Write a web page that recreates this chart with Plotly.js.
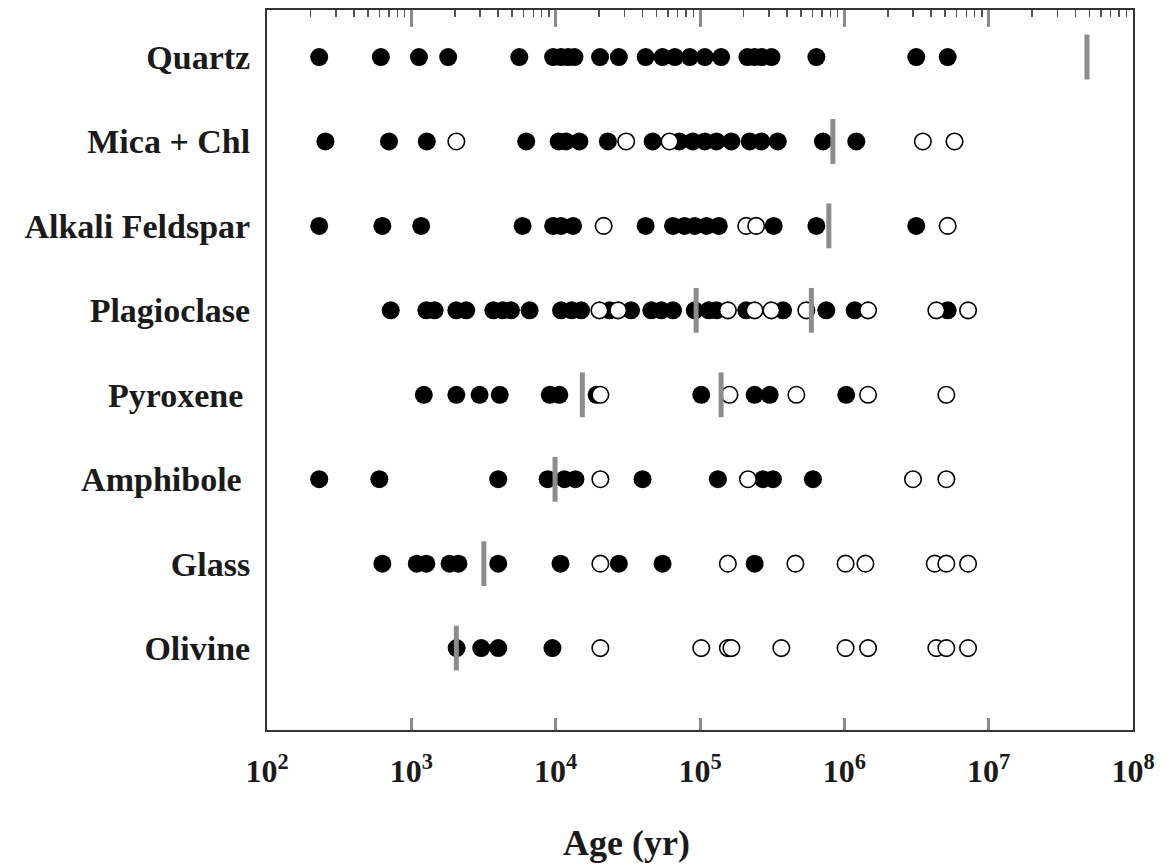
<!DOCTYPE html>
<html>
<head>
<meta charset="utf-8">
<script src="https://cdn.plot.ly/plotly-3.0.1.min.js"></script>
<style>html,body{margin:0;padding:0;background:#fff;}#chart{width:1170px;height:866px;}</style>
</head>
<body>
<div id="chart"></div>
<script>
// Categories (top to bottom)
var minerals = ['Quartz', 'Mica + Chl', 'Alkali Feldspar', 'Plagioclase', 'Pyroxene', 'Amphibole', 'Glass', 'Olivine'];
var mineralLabels = ['Quartz', 'Mica + Chl', 'Alkali Feldspar', 'Plagioclase', 'Pyroxene\u2009', 'Amphibole\u00a0', 'Glass', 'Olivine'];

// Ages (yr) - filled circles
var quartzFilled = [230, 615, 1130, 1800, 5600, 9600, 10900, 12200, 13500, 20300, 27400, 42000, 55000, 67000, 85000, 108000, 140000, 213000, 239000, 267000, 313000, 640000, 3150000, 5200000];
var micaFilled = [254, 700, 1280, 6250, 10500, 11800, 14600, 23000, 47000, 72000, 89000, 108000, 130000, 165000, 221000, 266000, 346000, 711000, 1210000];
var alkaliFilled = [230, 630, 1170, 5900, 9600, 10900, 13200, 42000, 65000, 78000, 92000, 111000, 135000, 324000, 640000, 3150000];
var plagFilled = [720, 1270, 1450, 2050, 2400, 3700, 4300, 4900, 6600, 10900, 12900, 15000, 23600, 33300, 46000, 54000, 65000, 92000, 115000, 130000, 209000, 376000, 750000, 1180000, 5200000];
var pyroxFilled = [1220, 2050, 2970, 4100, 9100, 10600, 19200, 102000, 239000, 304000, 1030000];
var amphFilled = [230, 600, 4000, 8800, 11500, 13700, 40000, 133000, 273000, 320000, 606000];
var glassFilled = [630, 1090, 1270, 1840, 2120, 4000, 10800, 27400, 55000, 239000];
var olivFilled = [2060, 3050, 4000, 9500];

// Ages (yr) - open circles
var quartzOpen = [];
var micaOpen = [2050, 30800, 61500, 3500000, 5800000];
var alkaliOpen = [21500, 209000, 245000, 5200000];
var plagOpen = [20100, 27100, 156000, 239000, 312000, 545000, 1460000, 4340000, 7200000];
var pyroxOpen = [20400, 160000, 465000, 1460000, 5090000];
var amphOpen = [20400, 215000, 2990000, 5090000];
var glassOpen = [20400, 156000, 458000, 1020000, 1400000, 4230000, 5090000, 7200000];
var olivOpen = [20400, 102000, 156000, 165000, 366000, 1020000, 1460000, 4340000, 5090000, 7200000];

// Ages (yr) - grey bars
var quartzBar = [48000000];
var micaBar = [833000];
var alkaliBar = [781000];
var plagBar = [94000, 591000];
var pyroxBar = [15300, 140000];
var amphBar = [9900];
var glassBar = [3180];
var olivBar = [2050];

// Axis ticks
var xTickVals = [1e2, 1e3, 1e4, 1e5, 1e6, 1e7, 1e8];
var xTickText = ['10<sup>2</sup>', '10<sup>3</sup>', '10<sup>4</sup>', '10<sup>5</sup>', '10<sup>6</sup>', '10<sup>7</sup>', '10<sup>8</sup>'];

function collect(lists) {
  var xs = [], ys = [];
  lists.forEach(function (arr, i) {
    arr.forEach(function (v) { xs.push(v); ys.push(minerals[i]); });
  });
  return {x: xs, y: ys};
}

var filled = collect([quartzFilled, micaFilled, alkaliFilled, plagFilled, pyroxFilled, amphFilled, glassFilled, olivFilled]);
var open = collect([quartzOpen, micaOpen, alkaliOpen, plagOpen, pyroxOpen, amphOpen, glassOpen, olivOpen]);
var bars = collect([quartzBar, micaBar, alkaliBar, plagBar, pyroxBar, amphBar, glassBar, olivBar]);

var font = {family: 'Liberation Serif, serif', size: 34, weight: 'bold', color: '#1a1a1a'};

var traces = [
  {type: 'scatter', mode: 'markers', x: filled.x, y: filled.y, xaxis: 'x', yaxis: 'y',
   marker: {symbol: 'circle', size: 18, color: '#000', line: {width: 0}}, hoverinfo: 'x+y'},
  {type: 'scatter', mode: 'markers', x: open.x, y: open.y, xaxis: 'x', yaxis: 'y',
   marker: {symbol: 'circle', size: 16.5, color: '#fff', line: {width: 1.6, color: '#000'}}, hoverinfo: 'x+y'},
  {type: 'scatter', mode: 'markers', x: bars.x, y: bars.y, xaxis: 'x2', yaxis: 'y',
   marker: {symbol: 'line-ns', size: 32, color: '#8c8c8c', line: {width: 5, color: '#8c8c8c'}}, hoverinfo: 'x+y'}
];

var layout = {
  width: 1170, height: 866,
  margin: {l: 267, r: 37, t: 10, b: 136},
  paper_bgcolor: '#fff', plot_bgcolor: '#fff',
  showlegend: false,
  xaxis: {
    type: 'log', range: [2, 8], showline: true, linecolor: '#333', linewidth: 2, mirror: true,
    ticks: 'inside', tickmode: 'array', tickvals: xTickVals, ticktext: xTickText,
    ticklen: 12, tickwidth: 3, tickcolor: '#8c8c8c', showgrid: false, zeroline: false,
    tickfont: {family: 'Liberation Serif, serif', size: 32, weight: 'bold', color: '#1a1a1a'},
    ticklabelstandoff: 12
  },
  xaxis2: {
    type: 'log', range: [2, 8], overlaying: 'x', side: 'top', anchor: 'y',
    showline: false, ticks: 'inside', tick0: 0, dtick: 1, ticklen: 17, tickwidth: 3, tickcolor: '#8c8c8c',
    showticklabels: false, showgrid: false, zeroline: false,
    minor: {ticks: 'inside', ticklen: 7, tickwidth: 1.5, tickcolor: '#555', dtick: 'D1', showgrid: false}
  },
  yaxis: {
    type: 'category', categoryorder: 'array', categoryarray: minerals,
    range: [7.97, -0.557], showline: true, linecolor: '#333', linewidth: 2, mirror: true,
    ticks: '', tickmode: 'array', tickvals: minerals, ticktext: mineralLabels,
    showgrid: false, zeroline: false, tickfont: font, ticklabelstandoff: 8
  },
  annotations: [{
    text: 'Age (yr)', xref: 'paper', yref: 'paper', x: 0.4157, y: -0.157,
    xanchor: 'center', yanchor: 'middle', showarrow: false,
    font: {family: 'Liberation Serif, serif', size: 36, weight: 'bold', color: '#1a1a1a'}
  }]
};

Plotly.newPlot('chart', traces, layout, {displayModeBar: false, staticPlot: true});
</script>
</body>
</html>
